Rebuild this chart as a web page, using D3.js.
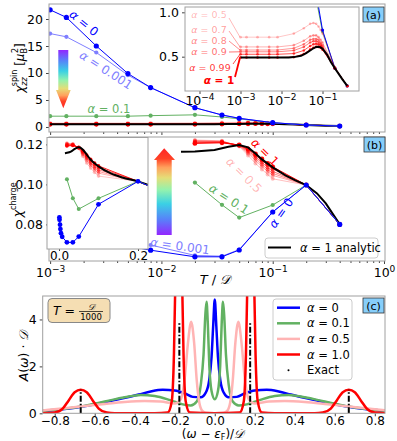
<!DOCTYPE html>
<html>
<head>
<meta charset="utf-8">
<script src="https://cdn.jsdelivr.net/npm/d3@7"></script>
<style>
  body { margin: 0; background: #fff; }
  text { font-family: 'DejaVu Sans', sans-serif; }
</style>
</head>
<body>
<svg id="chart" width="397" height="441"></svg>
<script>
// ---------- data: (a) spin susceptibility ----------
const tSpin = [0.001, 0.0014, 0.0026, 0.005, 0.008, 0.02, 0.035, 0.05, 0.1, 0.2, 0.4];
const spinA0 = [21.7, 20.3, 15.0, 9.9, 7.3, 3.57, 2.22, 1.61, 0.8, 0.37, 0.17];
const spinA0001 = [17.3, 16.7, 13.8, 9.6, 7.3, 3.57, 2.22, 1.61, 0.8, 0.37, 0.17];
const spinA01 = [2.0, 2.0, 2.0, 2.0, 2.1, 2.25, 1.85, 1.5, 0.78, 0.37, 0.17];
const tSpinRed = [0.001, 0.0014, 0.0026, 0.005, 0.008, 0.02, 0.035, 0.05, 0.06, 0.07, 0.08, 0.09, 0.1, 0.2, 0.4];
const spinA05 = [0.72, 0.72, 0.72, 0.72, 0.72, 0.76, 0.82, 0.87, 0.88, 0.87, 0.84, 0.80, 0.76, 0.38, 0.17];
const spinA07 = [0.61, 0.61, 0.61, 0.61, 0.61, 0.63, 0.68, 0.73, 0.74, 0.74, 0.72, 0.69, 0.66, 0.38, 0.17];
const spinA08 = [0.575, 0.575, 0.575, 0.575, 0.575, 0.595, 0.64, 0.69, 0.70, 0.70, 0.69, 0.66, 0.63, 0.375, 0.17];
const spinA09 = [0.555, 0.555, 0.555, 0.555, 0.555, 0.57, 0.61, 0.66, 0.675, 0.675, 0.665, 0.64, 0.61, 0.37, 0.17];
const spinA099 = [0.527, 0.527, 0.527, 0.527, 0.527, 0.535, 0.57, 0.62, 0.64, 0.645, 0.64, 0.62, 0.595, 0.37, 0.17];
const spinA1 = [0.49, 0.49, 0.49, 0.49, 0.49, 0.495, 0.53, 0.58, 0.60, 0.61, 0.61, 0.60, 0.58, 0.37, 0.17];
const tSpinExact = [0.001, 0.005, 0.01, 0.015, 0.02, 0.03, 0.04, 0.05, 0.06, 0.07, 0.08, 0.09, 0.1, 0.13, 0.16, 0.2, 0.3, 0.4];
const spinExact = [0.49, 0.49, 0.49, 0.49, 0.495, 0.51, 0.54, 0.57, 0.595, 0.61, 0.612, 0.605, 0.59, 0.52, 0.44, 0.37, 0.25, 0.17];

// ---------- data: (b) charge susceptibility ----------
const tChargeBlue = [0.001, 0.0013, 0.0026, 0.0035, 0.005, 0.008, 0.02, 0.035, 0.05, 0.1, 0.2, 0.4];
const chargeA0 = [0.0785, 0.0771, 0.0742, 0.0716, 0.0692, 0.0671, 0.0638, 0.0638, 0.0672, 0.0862, 0.0997, 0.080];
const tChargeA0001 = [0.008, 0.02, 0.035, 0.05, 0.1, 0.2, 0.4];
const chargeA0001 = [0.0697, 0.0645, 0.0641, 0.0674, 0.0862, 0.0997, 0.080];
const tChargeGreen = [0.02, 0.035, 0.05, 0.1, 0.2, 0.4];
const chargeA01 = [0.1009, 0.0898, 0.0834, 0.0897, 0.0997, 0.080];
const tChargeRed = [0.02, 0.035, 0.05, 0.06, 0.07, 0.08, 0.09, 0.1, 0.2, 0.4];
const chargeA05 = [0.1222, 0.1218, 0.1190, 0.1145, 0.1105, 0.1075, 0.1050, 0.1028, 0.0997, 0.080];
const chargeA07 = [0.1219, 0.1216, 0.1192, 0.1155, 0.1120, 0.1090, 0.1065, 0.1045, 0.0997, 0.080];
const chargeA08 = [0.1216, 0.1214, 0.1194, 0.1162, 0.1130, 0.1100, 0.1075, 0.1055, 0.0997, 0.080];
const chargeA09 = [0.1213, 0.1212, 0.1195, 0.1168, 0.1138, 0.1110, 0.1085, 0.1065, 0.0997, 0.080];
const chargeA099 = [0.1209, 0.1210, 0.1196, 0.1174, 0.1146, 0.1120, 0.1097, 0.1078, 0.0997, 0.080];
const chargeA1 = [0.1205, 0.1208, 0.1197, 0.1178, 0.1152, 0.1127, 0.1105, 0.1088, 0.0997, 0.080];
const tChargeExact = [0.015, 0.02, 0.03, 0.04, 0.05, 0.06, 0.07, 0.08, 0.1, 0.13, 0.16, 0.2, 0.25, 0.3, 0.4];
const chargeExact = [0.1163, 0.1165, 0.1172, 0.1188, 0.1197, 0.1185, 0.1155, 0.1125, 0.1085, 0.1045, 0.1020, 0.0997, 0.0955, 0.0905, 0.080];

// ---------- data: (c) spectral functions ----------
const wBlue = [-0.86, -0.75, -0.66, -0.55, -0.46, -0.38, -0.32, -0.26, -0.2, -0.15, -0.11, -0.07, -0.045, -0.028, -0.016, -0.008, 0,
               0.008, 0.016, 0.028, 0.045, 0.07, 0.11, 0.15, 0.2, 0.26, 0.32, 0.38, 0.46, 0.55, 0.66, 0.75, 0.86];
const aBlue = [0.1, 0.18, 0.29, 0.47, 0.64, 0.8, 0.93, 1.0, 0.97, 0.85, 0.7, 0.68, 0.88, 1.4, 2.4, 3.7, 4.85,
               3.7, 2.4, 1.4, 0.88, 0.68, 0.7, 0.85, 0.97, 1.0, 0.93, 0.8, 0.64, 0.47, 0.29, 0.18, 0.1];
const wGreen = [-0.86, -0.75, -0.66, -0.55, -0.45, -0.37, -0.3, -0.22, -0.16, -0.12, -0.09, -0.07, -0.056, -0.047, -0.041, -0.035, -0.027, -0.016, 0,
                0.016, 0.027, 0.035, 0.041, 0.047, 0.056, 0.07, 0.09, 0.12, 0.16, 0.22, 0.3, 0.37, 0.45, 0.55, 0.66, 0.75, 0.86];
const aGreen = [0.1, 0.19, 0.3, 0.5, 0.68, 0.78, 0.74, 0.55, 0.38, 0.33, 0.5, 1.2, 2.5, 4.2, 4.75, 3.9, 2.0, 0.95, 0.6,
                0.95, 2.0, 3.9, 4.75, 4.2, 2.5, 1.2, 0.5, 0.33, 0.38, 0.55, 0.74, 0.78, 0.68, 0.5, 0.3, 0.19, 0.1];
const wPink = [-0.86, -0.75, -0.66, -0.55, -0.45, -0.35, -0.27, -0.2, -0.17, -0.15, -0.135, -0.118, -0.103, -0.09, -0.077, -0.062, -0.045, 0,
               0.045, 0.062, 0.077, 0.09, 0.103, 0.118, 0.135, 0.15, 0.17, 0.2, 0.27, 0.35, 0.45, 0.55, 0.66, 0.75, 0.86];
const aPink = [0.12, 0.22, 0.3, 0.4, 0.48, 0.52, 0.5, 0.42, 0.6, 1.5, 2.9, 3.9, 3.0, 1.4, 0.45, 0.1, 0.02, 0.0,
               0.02, 0.1, 0.45, 1.4, 3.0, 3.9, 2.9, 1.5, 0.6, 0.42, 0.5, 0.52, 0.48, 0.4, 0.3, 0.22, 0.12];
const wRed = [-0.86, -0.8, -0.76, -0.73, -0.7, -0.67, -0.64, -0.61, -0.58, -0.54, -0.5, -0.3, -0.235, -0.215, -0.204, -0.196, -0.18, -0.164, -0.156, -0.145, -0.125, 0,
              0.125, 0.145, 0.156, 0.164, 0.18, 0.196, 0.204, 0.215, 0.235, 0.3, 0.5, 0.54, 0.58, 0.61, 0.64, 0.67, 0.7, 0.73, 0.76, 0.8, 0.86];
const aRed = [0, 0.03, 0.2, 0.55, 0.9, 1.0, 0.9, 0.55, 0.2, 0.03, 0, 0, 0.03, 0.5, 2.5, 6, 20, 6, 2.5, 0.5, 0.03, 0,
              0.03, 0.5, 2.5, 6, 20, 6, 2.5, 0.5, 0.03, 0, 0, 0.03, 0.2, 0.55, 0.9, 1.0, 0.9, 0.55, 0.2, 0.03, 0];
const wExact = [-0.67, -0.177, 0.177, 0.67];
const aExact = [1.0, 3.85, 3.85, 1.0];

// ---------- colours ----------
const BLUE = '#0000ff', LBLUE = '#7f7fff', GREEN = '#62b162', PINK = '#ffb4b4', RED = '#ff0000';
const redSeries = [
  { label: '0.5', op: 0.25 }, { label: '0.7', op: 0.35 }, { label: '0.8', op: 0.45 },
  { label: '0.9', op: 0.55 }, { label: '0.99', op: 0.75 }, { label: '1', op: 1 }
];

const svg = d3.select('#chart');
const defs = svg.append('defs');

// helpers
const pairs = (xs, ys) => d3.zip(xs, ys);
function clip(id, x0, y0, x1, y1) {
  defs.append('clipPath').attr('id', id).append('rect')
    .attr('x', x0).attr('y', y0).attr('width', x1 - x0).attr('height', y1 - y0);
  return `url(#${id})`;
}
function series(g, x, y, data, o) {
  const line = d3.line().x(d => x(d[0])).y(d => y(d[1]));
  if (o.curve) line.curve(o.curve);
  g.append('path').datum(data).attr('d', line).attr('fill', 'none')
    .attr('stroke', o.color).attr('stroke-width', o.width || 1)
    .attr('stroke-opacity', o.op == null ? 1 : o.op)
    .attr('stroke-dasharray', o.dash || null);
  if (o.r) {
    g.selectAll(null).data(data).enter().append('circle')
      .attr('cx', d => x(d[0])).attr('cy', d => y(d[1])).attr('r', o.r)
      .attr('fill', o.color).attr('fill-opacity', o.op == null ? 1 : o.op);
  }
}
function frame(x0, y0, x1, y1, stroke) {
  svg.append('rect').attr('x', x0).attr('y', y0).attr('width', x1 - x0).attr('height', y1 - y0)
    .attr('fill', 'none').attr('stroke', stroke || '#a0a0a0').attr('stroke-width', 1);
}
function alphaLabel(g, x, y, rest, o) {
  const t = g.append('text').attr('x', x).attr('y', y).attr('dy', '0.35em')
    .attr('text-anchor', o.anchor || 'middle').attr('font-size', o.size || 11)
    .attr('fill', o.color).attr('fill-opacity', o.op == null ? 1 : o.op)
    .attr('font-weight', o.bold ? 'bold' : null);
  if (o.rot) t.attr('transform', `rotate(${o.rot},${x},${y})`);
  t.append('tspan').attr('font-style', 'italic').text('α');
  t.append('tspan').text(' = ' + rest);
  return t;
}
function logLabels(g, size) {
  g.selectAll('.tick text').each(function (d) {
    const t = d3.select(this);
    t.text(null);
    t.append('tspan').text('10');
    t.append('tspan').attr('dy', -5).attr('font-size', size * 0.72)
      .text(String(Math.round(Math.log10(d))).replace('-', '−'));
  });
}
function styleAxis(g, size) {
  g.select('.domain').remove();
  g.selectAll('.tick line').attr('stroke', '#444');
  g.selectAll('.tick text').attr('font-size', size).attr('fill', '#000')
    .attr('font-family', "'DejaVu Sans', sans-serif");
}
function minorLog(lo, hi) {
  const out = [];
  for (let e = lo; e < hi; e++) for (let k = 2; k <= 9; k++) out.push(k * Math.pow(10, e));
  return out;
}
function tag(x, y, txt) {
  svg.append('rect').attr('x', x).attr('y', y).attr('width', 21).attr('height', 15)
    .attr('fill', '#87cefa').attr('stroke', '#333').attr('stroke-width', 0.8);
  svg.append('text').attr('x', x + 10.5).attr('y', y + 11.5).attr('text-anchor', 'middle')
    .attr('font-size', 11).text(txt);
}
function arrow(id, x0, x1, hx0, hx1, yTop, yNeck, yTip, up) {
  const grad = defs.append('linearGradient').attr('id', id)
    .attr('x1', 0).attr('y1', up ? 1 : 0).attr('x2', 0).attr('y2', up ? 0 : 1);
  [['0%', '#8000ff'], ['18%', '#3a6cf8'], ['36%', '#18c8e0'], ['52%', '#80f0a0'],
   ['66%', '#e0d860'], ['78%', '#ff9040'], ['88%', '#ff2000'], ['100%', '#ff0000']]
    .forEach(s => grad.append('stop').attr('offset', s[0]).attr('stop-color', s[1]));
  const mid = (x0 + x1) / 2;
  const pts = [[x0, yTop], [x0, yNeck], [hx0, yNeck], [mid, yTip], [hx1, yNeck], [x1, yNeck], [x1, yTop]];
  svg.append('polygon').attr('points', pts.map(p => p.join(',')).join(' '))
    .attr('fill', `url(#${id})`).attr('fill-opacity', 0.85);
}

// ================= panel (a) =================
const xMain = d3.scaleLog().domain([Math.pow(10, -3.01), Math.pow(10, 0.009)]).range([49, 385]);
const yA = d3.scaleLinear().domain([-0.93, 22.78]).range([132, 4]);

const gA = svg.append('g').attr('clip-path', clip('clipA', 49, 4, 385, 132));
redSeries.forEach((s, i) => {
  const vals = [spinA05, spinA07, spinA08, spinA09, spinA099, spinA1][i];
  series(gA, xMain, yA, pairs(tSpinRed, vals), { color: RED, op: s.op, r: i === 5 ? 2.4 : 2, width: 1 });
});
series(gA, xMain, yA, pairs(tSpinExact, spinExact), { color: '#000', width: 2 });
series(gA, xMain, yA, pairs(tSpin, spinA01), { color: GREEN, r: 2.1, width: 1 });
series(gA, xMain, yA, pairs(tSpin, spinA0001), { color: LBLUE, r: 2.1, width: 1 });
series(gA, xMain, yA, pairs(tSpin, spinA0), { color: BLUE, r: 2.6, width: 1 });

svg.append('g').attr('transform', 'translate(49,0)')
  .call(d3.axisLeft(yA).tickValues([0, 5, 10, 15, 20]).tickSize(3).tickFormat(d3.format('d')))
  .call(g => styleAxis(g, 12.5));
svg.append('g').attr('transform', 'translate(0,132)')
  .call(d3.axisBottom(xMain).tickValues([1e-3, 1e-2, 1e-1]).tickSize(3).tickFormat(''))
  .call(g => styleAxis(g, 12));
svg.append('g').attr('transform', 'translate(0,132)')
  .call(d3.axisBottom(xMain).tickValues(minorLog(-3, 0)).tickSize(2).tickFormat(''))
  .call(g => styleAxis(g, 12));
frame(49, 4, 385, 132);

alphaLabel(svg, 84, 23, '0', { color: BLUE, rot: 39, size: 12 });
alphaLabel(svg, 106, 70, '0.001', { color: LBLUE, rot: 33, size: 12 });
alphaLabel(svg, 109, 109, '0.1', { color: GREEN, size: 11.5 });
arrow('gradA', 58.3, 68.3, 56, 70.7, 50, 90, 108.3, false);

// inset (a)
const xIA = d3.scaleLog().domain([Math.pow(10, -4.354), Math.pow(10, -0.11)]).range([185, 359]);
const yIA = d3.scaleLinear().domain([0.113, 1.06]).range([91, 7]);
svg.append('rect').attr('x', 185).attr('y', 7).attr('width', 174).attr('height', 84).attr('fill', '#fff');
const gIA = svg.append('g').attr('clip-path', clip('clipIA', 185, 7, 359, 91));
series(gIA, xIA, yIA, pairs(tSpin, spinA01), { color: GREEN, r: 1.4, width: 1 });
series(gIA, xIA, yIA, pairs(tSpin, spinA0), { color: BLUE, r: 1.6, width: 1 });
redSeries.forEach((s, i) => {
  const vals = [spinA05, spinA07, spinA08, spinA09, spinA099, spinA1][i];
  series(gIA, xIA, yIA, pairs(tSpinRed, vals), { color: RED, op: s.op, r: 1.3, width: 0.9 });
});
series(gIA, xIA, yIA, pairs(tSpinExact, spinExact), { color: '#000', width: 2 });
svg.append('g').attr('transform', 'translate(185,0)')
  .call(d3.axisLeft(yIA).tickValues([0.5, 1.0]).tickSize(3).tickFormat(d3.format('.1f')))
  .call(g => styleAxis(g, 12.5));
svg.append('g').attr('transform', 'translate(0,91)')
  .call(d3.axisBottom(xIA).tickValues([1e-4, 1e-3, 1e-2, 1e-1]).tickSize(3).tickPadding(2))
  .call(g => { styleAxis(g, 12.5); logLabels(g, 12.5); });
frame(185, 7, 359, 91);

// inset (a) labels with leader lines
const insetLabels = [
  { rest: '0.5', x: 209, y: 15, lx: 229, ly: 18, op: 0.3 },
  { rest: '0.7', x: 209, y: 29.5, lx: 229, ly: 31, op: 0.4 },
  { rest: '0.8', x: 209, y: 40.5, lx: 229, ly: 41, op: 0.5 },
  { rest: '0.9', x: 209, y: 51.5, lx: 229, ly: 52, op: 0.6 },
  { rest: '0.99', x: 210, y: 68, lx: 233, ly: 64, op: 0.8 },
  { rest: '1', x: 219, y: 80, lx: 235, ly: 77, op: 1, bold: true }
];
const firstVals = [spinA05, spinA07, spinA08, spinA09, spinA099, spinA1].map(v => v[0]);
insetLabels.forEach((l, i) => {
  svg.append('line').attr('x1', l.lx).attr('y1', l.ly)
    .attr('x2', xIA(tSpinRed[0]) - 0.5).attr('y2', yIA(firstVals[i]))
    .attr('stroke', RED).attr('stroke-opacity', l.op).attr('stroke-width', l.bold ? 1.8 : 0.9);
  alphaLabel(svg, l.x, l.y, l.rest, { color: RED, op: l.op, size: l.bold ? 10.5 : 9.5, bold: l.bold });
});
tag(363, 7, '(a)');

// y label (a)
const ylA = svg.append('text').attr('transform', 'translate(24,68) rotate(-90)')
  .attr('text-anchor', 'middle').attr('font-size', 12);
ylA.append('tspan').attr('font-style', 'italic').text('χ');
ylA.append('tspan').attr('font-size', 8).attr('font-style', 'italic').attr('dy', 3).text('zz');
ylA.append('tspan').attr('font-size', 8).attr('dx', -9).attr('dy', -10).text('spin');
ylA.append('tspan').attr('dy', 7).text(' [');
ylA.append('tspan').attr('font-style', 'italic').text('μ');
ylA.append('tspan').attr('font-size', 8).attr('dy', 3).text('B');
ylA.append('tspan').attr('font-size', 8).attr('dx', -5).attr('dy', -9).text('2');
ylA.append('tspan').attr('dy', 6).text(']');

// ================= panel (b) =================
const yB = d3.scaleLinear().domain([0.0617, 0.1237]).range([261, 137]);
const gB = svg.append('g').attr('clip-path', clip('clipB', 49, 137, 385, 261));
redSeries.forEach((s, i) => {
  const vals = [chargeA05, chargeA07, chargeA08, chargeA09, chargeA099, chargeA1][i];
  series(gB, xMain, yB, pairs(tChargeRed, vals), { color: RED, op: s.op, r: i === 5 ? 2.4 : 2, width: 1 });
});
series(gB, xMain, yB, pairs(tChargeExact, chargeExact), { color: '#000', width: 2 });
series(gB, xMain, yB, pairs(tChargeGreen, chargeA01), { color: GREEN, r: 2.1, width: 1 });
series(gB, xMain, yB, pairs(tChargeA0001, chargeA0001), { color: LBLUE, r: 2.1, width: 1 });
series(gB, xMain, yB, pairs(tChargeBlue, chargeA0), { color: BLUE, r: 2.6, width: 1 });

svg.append('g').attr('transform', 'translate(49,0)')
  .call(d3.axisLeft(yB).tickValues([0.08, 0.10, 0.12]).tickSize(3).tickFormat(d3.format('.2f')))
  .call(g => styleAxis(g, 12.5));
svg.append('g').attr('transform', 'translate(0,261)')
  .call(d3.axisBottom(xMain).tickValues([1e-3, 1e-2, 1e-1, 1]).tickSize(3).tickPadding(4))
  .call(g => { styleAxis(g, 12.5); logLabels(g, 12.5); });
svg.append('g').attr('transform', 'translate(0,261)')
  .call(d3.axisBottom(xMain).tickValues(minorLog(-3, 0)).tickSize(2).tickFormat(''))
  .call(g => styleAxis(g, 12));
frame(49, 137, 385, 261);

alphaLabel(svg, 265, 152, '1', { color: RED, rot: 45, size: 12 });
alphaLabel(svg, 244, 175, '0.5', { color: RED, op: 0.3, rot: 45, size: 12 });
alphaLabel(svg, 229, 199, '0.1', { color: GREEN, rot: 33, size: 12 });
alphaLabel(svg, 281, 213, '0', { color: BLUE, rot: -55, size: 12 });
alphaLabel(svg, 180, 246, '0.001', { color: LBLUE, rot: 8, size: 12 });
arrow('gradB', 156.7, 171.7, 154, 175, 235, 160, 148.3, true);

// inset (b)
const xIB = d3.scaleLinear().domain([-0.0304, 0.2253]).range([47, 148]);
const yIB = d3.scaleLinear().domain([0.0599, 0.1255]).range([249, 137.5]);
svg.append('rect').attr('x', 47).attr('y', 137.5).attr('width', 101).attr('height', 111.5).attr('fill', '#fff');
const gIB = svg.append('g').attr('clip-path', clip('clipIB', 47, 137.5, 148, 249));
redSeries.forEach((s, i) => {
  const vals = [chargeA05, chargeA07, chargeA08, chargeA09, chargeA099, chargeA1][i];
  series(gIB, xIB, yIB, pairs(tChargeRed, vals), { color: RED, op: s.op, r: 1.8, width: 0.9 });
});
series(gIB, xIB, yIB, pairs(tChargeExact, chargeExact), { color: '#000', width: 2, curve: d3.curveMonotoneX });
series(gIB, xIB, yIB, pairs(tChargeGreen, chargeA01), { color: GREEN, r: 2, width: 1 });
series(gIB, xIB, yIB, pairs(tChargeBlue, chargeA0), { color: BLUE, r: 2.4, width: 1 });
svg.append('g').attr('transform', 'translate(0,249)')
  .call(d3.axisBottom(xIB).tickValues([0, 0.2]).tickSize(2).tickPadding(0).tickFormat(d3.format('.1f')))
  .call(g => styleAxis(g, 12));
frame(47, 137.5, 148, 249);

// legend (b)
svg.append('rect').attr('x', 265).attr('y', 238).attr('width', 113).attr('height', 20).attr('rx', 3)
  .attr('fill', '#fff').attr('stroke', '#ccc');
svg.append('line').attr('x1', 268).attr('x2', 291).attr('y1', 247.5).attr('y2', 247.5)
  .attr('stroke', '#000').attr('stroke-width', 2);
{
  const t = svg.append('text').attr('x', 300).attr('y', 251.5).attr('font-size', 11.5);
  t.append('tspan').attr('font-style', 'italic').text('α');
  t.append('tspan').text(' = 1 analytic');
}
tag(364, 137, '(b)');

// y label (b)
const ylB = svg.append('text').attr('transform', 'translate(22,200) rotate(-90)')
  .attr('text-anchor', 'middle').attr('font-size', 13);
ylB.append('tspan').attr('font-style', 'italic').text('χ');
ylB.append('tspan').attr('font-size', 8).attr('dy', -6).text('charge');

// x label (b)
const xlB = svg.append('text').attr('x', 215).attr('y', 284).attr('text-anchor', 'middle').attr('font-size', 13);
xlB.append('tspan').attr('font-style', 'italic').text('T');
xlB.append('tspan').text(' / ');
xlB.append('tspan').attr('font-style', 'italic').text('𝒟');

// ================= panel (c) =================
const xC = d3.scaleLinear().domain([-0.86, 0.851]).range([42.7, 385]);
const yC = d3.scaleLinear().domain([0, 5]).range([413.3, 296]);
const gC = svg.append('g').attr('clip-path', clip('clipC', 42.7, 296, 385, 413.3));
const smooth = d3.curveMonotoneX;
series(gC, xC, yC, pairs(wBlue, aBlue), { color: BLUE, width: 2.5, curve: smooth });
series(gC, xC, yC, pairs(wGreen, aGreen), { color: GREEN, width: 2.5, curve: smooth });
series(gC, xC, yC, pairs(wPink, aPink), { color: PINK, width: 2.5, curve: smooth });
series(gC, xC, yC, pairs(wRed, aRed), { color: RED, width: 2.5, curve: smooth });
gC.selectAll(null).data(pairs(wExact, aExact)).enter().append('line')
  .attr('x1', d => xC(d[0])).attr('x2', d => xC(d[0]))
  .attr('y1', yC(0)).attr('y2', d => yC(d[1]))
  .attr('stroke', '#000').attr('stroke-width', 2).attr('stroke-dasharray', '6,2,1.5,2');

svg.append('g').attr('transform', 'translate(42.7,0)')
  .call(d3.axisLeft(yC).tickValues([0, 2, 4]).tickSize(3).tickFormat(d3.format('d')))
  .call(g => styleAxis(g, 12.5));
svg.append('g').attr('transform', 'translate(0,413.3)')
  .call(d3.axisBottom(xC).tickValues([-0.8, -0.6, -0.4, -0.2, 0, 0.2, 0.4, 0.6, 0.8]).tickSize(3).tickPadding(0)
    .tickFormat(d => d3.format('.1f')(d).replace('-', '−')))
  .call(g => styleAxis(g, 12));
frame(42.7, 296, 385, 413.3);

// T = D/1000 box
svg.append('rect').attr('x', 48).attr('y', 298.5).attr('width', 62).attr('height', 24).attr('rx', 4)
  .attr('fill', '#f5deb3').attr('stroke', '#888');
{
  const t = svg.append('text').attr('x', 53).attr('y', 315).attr('font-size', 12.5);
  t.append('tspan').attr('font-style', 'italic').text('T');
  t.append('tspan').text(' =');
  svg.append('text').attr('x', 91).attr('y', 309.5).attr('text-anchor', 'middle').attr('font-size', 8.5)
    .attr('font-style', 'italic').text('𝒟');
  svg.append('line').attr('x1', 79).attr('x2', 103).attr('y1', 311.5).attr('y2', 311.5)
    .attr('stroke', '#000').attr('stroke-width', 0.7);
  svg.append('text').attr('x', 91).attr('y', 319.5).attr('text-anchor', 'middle').attr('font-size', 8.5).text('1000');
}

// legend (c)
svg.append('rect').attr('x', 273).attr('y', 299).attr('width', 79).attr('height', 81).attr('rx', 3)
  .attr('fill', '#fff').attr('fill-opacity', 0.85).attr('stroke', '#ccc');
const legC = [
  { rest: '0', color: BLUE }, { rest: '0.1', color: GREEN },
  { rest: '0.5', color: PINK }, { rest: '1.0', color: RED }
];
legC.forEach((l, i) => {
  const y = 307.7 + i * 15.6;
  svg.append('line').attr('x1', 277).attr('x2', 300).attr('y1', y).attr('y2', y)
    .attr('stroke', l.color).attr('stroke-width', 2.5);
  alphaLabel(svg, 307, y, l.rest, { color: '#000', anchor: 'start', size: 11.5 });
});
svg.append('circle').attr('cx', 288.5).attr('cy', 370.2).attr('r', 1).attr('fill', '#000');
svg.append('text').attr('x', 307).attr('y', 370.2).attr('dy', '0.35em').attr('font-size', 11.5).text('Exact');
tag(363, 298, '(c)');

// y label (c)
const ylC = svg.append('text').attr('transform', 'translate(28,356) rotate(-90)')
  .attr('text-anchor', 'middle').attr('font-size', 12.5);
ylC.append('tspan').attr('font-style', 'italic').text('A');
ylC.append('tspan').text('(');
ylC.append('tspan').attr('font-style', 'italic').text('ω');
ylC.append('tspan').text(') · ');
ylC.append('tspan').attr('font-style', 'italic').text('𝒟');

// x label (c)
const xlC = svg.append('text').attr('x', 213).attr('y', 438).attr('text-anchor', 'middle').attr('font-size', 12);
xlC.append('tspan').text('(');
xlC.append('tspan').attr('font-style', 'italic').text('ω');
xlC.append('tspan').text(' − ');
xlC.append('tspan').attr('font-style', 'italic').text('ε');
xlC.append('tspan').attr('font-size', 8).attr('dy', 2).text('F');
xlC.append('tspan').attr('dy', -2).text(')/');
xlC.append('tspan').attr('font-style', 'italic').text('𝒟');
</script>
</body>
</html>
